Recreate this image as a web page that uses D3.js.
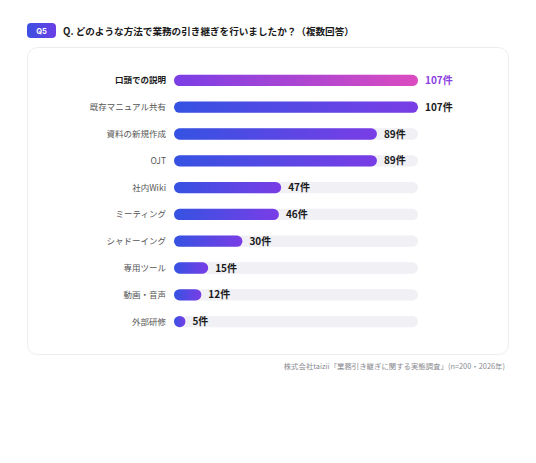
<!DOCTYPE html>
<html>
<head>
<meta charset="utf-8">
<script src="https://cdn.jsdelivr.net/npm/d3@7"></script>
<style>
  body { margin: 0; background: #fff; }
  svg { display: block; font-family: "Noto Sans CJK JP", "Noto Sans", sans-serif; }
</style>
</head>
<body>
<svg id="chart" width="536" height="463"></svg>
<script>
// data
var methods = ["口頭での説明", "既存マニュアル共有", "資料の新規作成", "OJT", "社内Wiki",
               "ミーティング", "シャドーイング", "専用ツール", "動画・音声", "外部研修"];
var counts = [107, 107, 89, 89, 47, 46, 30, 15, 12, 5];
var unit = "件";

var svg = d3.select("#chart");
var defs = svg.append("defs");

// gradients
var g1 = defs.append("linearGradient").attr("id", "gradTop");
g1.append("stop").attr("offset", "0%").attr("stop-color", "#7a3ee6");
g1.append("stop").attr("offset", "100%").attr("stop-color", "#db4cbf");
var g2 = defs.append("linearGradient").attr("id", "gradRest");
g2.append("stop").attr("offset", "0%").attr("stop-color", "#3552e2");
g2.append("stop").attr("offset", "100%").attr("stop-color", "#7a3de6");
var g3 = defs.append("linearGradient").attr("id", "gradBadge");
g3.append("stop").attr("offset", "0%").attr("stop-color", "#3c50e2");
g3.append("stop").attr("offset", "100%").attr("stop-color", "#6a3fe6");

// header
svg.append("rect").attr("x", 27).attr("y", 23).attr("width", 29).attr("height", 15)
  .attr("rx", 4).attr("fill", "url(#gradBadge)");
svg.append("text").attr("x", 41.5).attr("y", 33.5).attr("text-anchor", "middle")
  .attr("fill", "#fff").attr("font-size", 7.5).attr("font-weight", 700)
  .attr("font-family", "Inter, sans-serif").text("Q5");
svg.append("text").attr("x", 63).attr("y", 35)
  .attr("fill", "#1a1a1a").attr("font-size", 9.6).attr("font-weight", 700)
  .text("Q. どのような方法で業務の引き継ぎを行いましたか？（複数回答）");

// card
svg.append("rect").attr("x", 27.5).attr("y", 47.5).attr("width", 481).attr("height", 307)
  .attr("rx", 10).attr("fill", "#fff").attr("stroke", "#ededf0");

var x = d3.scaleLinear().domain([0, d3.max(counts)]).range([174, 418]);
var y = d3.scaleBand().domain(methods).range([67, 335]).paddingInner(0.58).paddingOuter(0.29);
var bh = y.bandwidth();

var rows = svg.append("g").selectAll("g").data(methods).join("g")
  .attr("transform", function(d) { return "translate(0," + y(d) + ")"; });

// track
rows.append("rect").attr("x", x(0)).attr("y", 0).attr("width", x.range()[1] - x(0))
  .attr("height", bh).attr("rx", bh / 2).attr("fill", "#f0f0f5");

// bars
rows.append("rect").attr("x", x(0)).attr("y", 0)
  .attr("width", function(d, i) { return Math.max(bh, x(counts[i]) - x(0)); })
  .attr("height", bh).attr("rx", bh / 2)
  .attr("fill", function(d, i) { return i === 0 ? "url(#gradTop)" : "url(#gradRest)"; });

// category labels
rows.append("text").attr("x", 166).attr("y", bh / 2).attr("dy", "0.35em")
  .attr("text-anchor", "end").attr("font-size", 8.5)
  .attr("font-weight", function(d, i) { return i === 0 ? 700 : 400; })
  .attr("fill", function(d, i) { return i === 0 ? "#1a1a1a" : "#555"; })
  .text(function(d) { return d; });

// values
rows.append("text")
  .attr("x", function(d, i) { return Math.max(x(0) + bh, x(counts[i])) + 7; })
  .attr("y", bh / 2).attr("dy", "0.36em")
  .attr("font-size", 10).attr("font-weight", 700)
  .attr("fill", function(d, i) { return i === 0 ? "#8a3fe0" : "#1a1a1a"; })
  .text(function(d, i) { return counts[i] + unit; });

// source
svg.append("text").attr("x", 505).attr("y", 369).attr("text-anchor", "end")
  .attr("font-size", 7.4).attr("fill", "#8a8a90")
  .text("株式会社taizii「業務引き継ぎに関する実態調査」(n=200・2026年)");
</script>
</body>
</html>
